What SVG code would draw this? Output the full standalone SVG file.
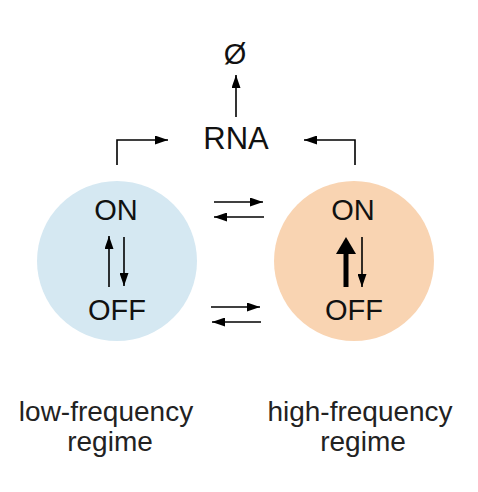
<svg xmlns="http://www.w3.org/2000/svg" width="478" height="492" viewBox="0 0 478 492">
<defs>
<marker id="ah" viewBox="0 0 10 10" preserveAspectRatio="none" refX="10" refY="5" markerWidth="13" markerHeight="9" markerUnits="userSpaceOnUse" orient="auto"><path d="M0,0 L10,5 L0,10 Z" fill="#000"/></marker>
</defs>
<style>
text{font-family:"Liberation Sans",Arial,sans-serif;text-anchor:middle;fill:#111}
.st{font-size:29px}
.lab{font-size:28px;fill:#222}
.c{stroke:#000;stroke-width:1.6;fill:none}
</style>
<rect width="478" height="492" fill="#fff"/>
<g id="low">
<circle cx="117" cy="261" r="80" fill="#d5e8f2"/>
<text class="st" x="116" y="220">ON</text>
<text class="st" x="117" y="320">OFF</text>
</g>
<g id="high">
<circle cx="354" cy="261" r="80" fill="#f9d4b2"/>
<text class="st" x="353" y="220">ON</text>
<text class="st" x="354" y="320">OFF</text>
</g>
<g id="rna"><text x="236" y="149" style="font-size:31px">RNA</text></g>
<g id="null"><text x="235" y="64" style="font-size:29px">Ø</text></g>
<g id="labels">
<text class="lab" x="106" y="421">low-frequency</text>
<text class="lab" x="110" y="451">regime</text>
<text class="lab" x="360" y="421">high-frequency</text>
<text class="lab" x="363" y="451">regime</text>
</g>
<g id="connectors">
<path class="c" d="M236,117 V75" marker-end="url(#ah)"/>
<path class="c" d="M117,165 V140 H168" marker-end="url(#ah)"/>
<path class="c" d="M355,165 V140 H304" marker-end="url(#ah)"/>
<path class="c" d="M109,287 V236" marker-end="url(#ah)"/>
<path class="c" d="M124,237 V286" marker-end="url(#ah)"/>
<path d="M346,287 V250" stroke="#000" stroke-width="5" fill="none"/>
<polygon points="336,254 346,237 356,254" fill="#000"/>
<path class="c" d="M362,237 V287" marker-end="url(#ah)"/>
<path class="c" d="M214,202 H263" marker-end="url(#ah)"/>
<path class="c" d="M264,217 H214" marker-end="url(#ah)"/>
<path class="c" d="M211,307 H260" marker-end="url(#ah)"/>
<path class="c" d="M261,322 H212" marker-end="url(#ah)"/>
</g>
</svg>
